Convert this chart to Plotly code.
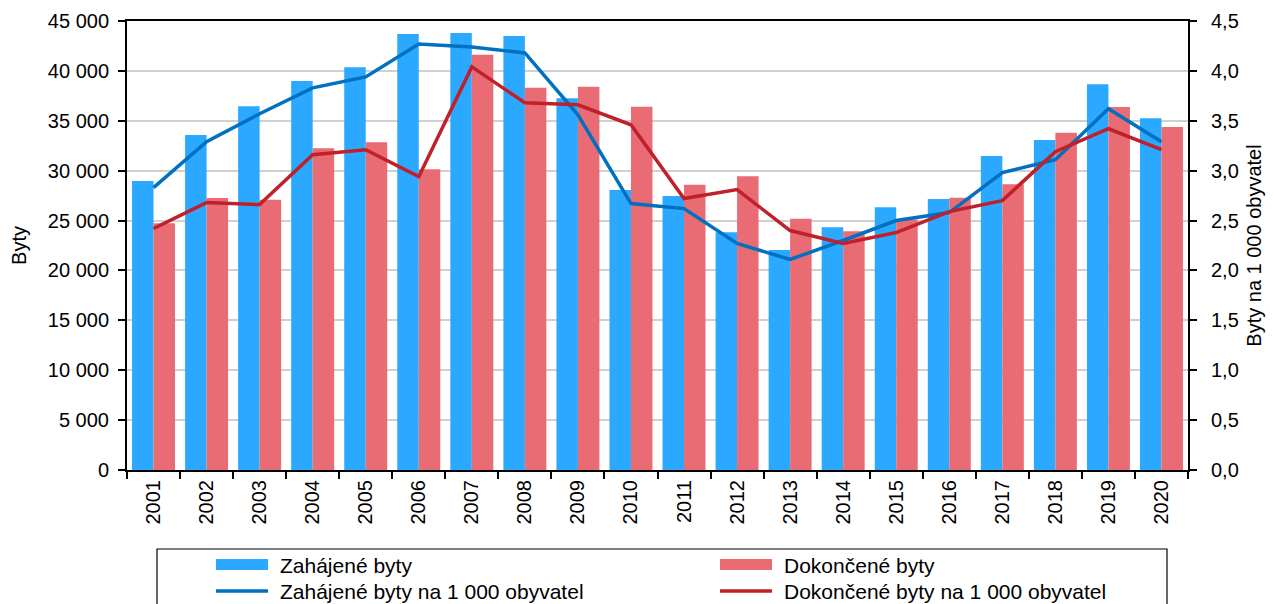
import plotly.graph_objects as go

years = [str(y) for y in range(2001, 2021)]

zahajene = [28960, 33580, 36450, 38990, 40360, 43700, 43800, 43500, 37250, 28060,
            27460, 23820, 22050, 24320, 26330, 27160, 31470, 33070, 38660, 35250]
dokoncene = [24720, 27260, 27090, 32240, 32840, 30140, 41620, 38320, 38420, 36410,
             28590, 29440, 25190, 23920, 25100, 27290, 28630, 33810, 36380, 34380]
zahajene_na_1000 = [2.83, 3.29, 3.57, 3.83, 3.94, 4.27, 4.24, 4.18, 3.56, 2.67,
                    2.62, 2.27, 2.11, 2.30, 2.50, 2.58, 2.98, 3.11, 3.62, 3.29]
dokoncene_na_1000 = [2.42, 2.68, 2.66, 3.16, 3.21, 2.94, 4.04, 3.68, 3.66, 3.46,
                     2.72, 2.81, 2.40, 2.27, 2.38, 2.59, 2.70, 3.19, 3.42, 3.21]

legend_labels = ["Zahájené byty", "Dokončené byty",
                 "Zahájené byty na 1 000 obyvatel", "Dokončené byty na 1 000 obyvatel"]

BLUE_BAR = "#2BA8FF"
RED_BAR = "#E96B73"
BLUE_LINE = "#0070C0"
RED_LINE = "#C0202A"
FONT = "Liberation Sans, Arial, sans-serif"

# page body has an 8px margin, so the figure is a bit smaller than the window
OFF = 8
W, H = 1274 - OFF, 604 - OFF
L, R, T, B = 127 - OFF, 86, 21 - OFF, 134
PW, PH = W - L - R, H - T - B


def px_x(x):
    # window pixel -> paper coordinate
    return (x - OFF - L) / PW


def px_y(y):
    return (H - B - (y - OFF)) / PH


fig = go.Figure()

fig.add_trace(go.Bar(x=years, y=zahajene, name=legend_labels[0],
                     marker=dict(color=BLUE_BAR, line=dict(width=0)), showlegend=False))
fig.add_trace(go.Bar(x=years, y=dokoncene, name=legend_labels[1],
                     marker=dict(color=RED_BAR, line=dict(width=0)), showlegend=False))
fig.add_trace(go.Scatter(x=years, y=zahajene_na_1000, name=legend_labels[2], yaxis="y2",
                         mode="lines", line=dict(color=BLUE_LINE, width=3.5), showlegend=False))
fig.add_trace(go.Scatter(x=years, y=dokoncene_na_1000, name=legend_labels[3], yaxis="y2",
                         mode="lines", line=dict(color=RED_LINE, width=3.5), showlegend=False))

# legend drawn by hand (wide swatches like the original)
shapes = [dict(type="rect", xref="paper", yref="paper",
               x0=px_x(157), x1=px_x(1167), y0=px_y(549), y1=px_y(640),
               line=dict(color="black", width=1.2), fillcolor="rgba(0,0,0,0)")]
annotations = []
cols = [216, 720]
rows = [565, 591]
swatches = [("bar", BLUE_BAR), ("bar", RED_BAR), ("line", BLUE_LINE), ("line", RED_LINE)]
for i, (kind, color) in enumerate(swatches):
    cx = cols[i % 2]
    cy = rows[i // 2]
    if kind == "bar":
        shapes.append(dict(type="rect", xref="paper", yref="paper",
                           x0=px_x(cx), x1=px_x(cx + 52), y0=px_y(cy - 6), y1=px_y(cy + 5),
                           line=dict(width=0), fillcolor=color))
    else:
        shapes.append(dict(type="line", xref="paper", yref="paper",
                           x0=px_x(cx), x1=px_x(cx + 52), y0=px_y(cy), y1=px_y(cy),
                           line=dict(color=color, width=3.5)))
    annotations.append(dict(xref="paper", yref="paper", x=px_x(cx + 62), y=px_y(cy),
                            text=legend_labels[i], showarrow=False, xanchor="left",
                            yanchor="middle", font=dict(size=21, color="black")))

fig.update_layout(
    width=W, height=H,
    margin=dict(l=L, r=R, t=T, b=B, autoexpand=False),
    paper_bgcolor="white", plot_bgcolor="white",
    font=dict(family=FONT, size=20, color="black"),
    separators=", ",
    barmode="group", bargap=0.19, bargroupgap=0,
    shapes=shapes, annotations=annotations,
    xaxis=dict(
        type="category", tickangle=-90, tickson="boundaries",
        ticks="outside", ticklen=7, tickwidth=1.5, tickcolor="black",
        showline=True, linecolor="black", linewidth=2, mirror=True,
        showgrid=False, tickfont=dict(size=20),
    ),
    yaxis=dict(
        range=[0, 45000], dtick=5000, tickformat=",d",
        ticks="outside", ticklen=7, tickwidth=1.5, tickcolor="black",
        showline=True, linecolor="black", linewidth=2,
        showgrid=True, gridcolor="#D0D0D0", gridwidth=1.5, zeroline=False,
        ticklabelstandoff=5,
        title=dict(text="Byty", font=dict(size=20), standoff=22),
        tickfont=dict(size=20),
    ),
    yaxis2=dict(
        range=[0, 4.5], dtick=0.5, tickformat=".1f", overlaying="y", side="right",
        ticks="outside", ticklen=7, tickwidth=1.5, tickcolor="black",
        showline=True, linecolor="black", linewidth=2,
        showgrid=False, zeroline=False,
        ticklabelstandoff=10,
        title=dict(text="Byty na 1 000 obyvatel", font=dict(size=20), standoff=9),
        tickfont=dict(size=20),
    ),
)

fig.write_html("out.html")
